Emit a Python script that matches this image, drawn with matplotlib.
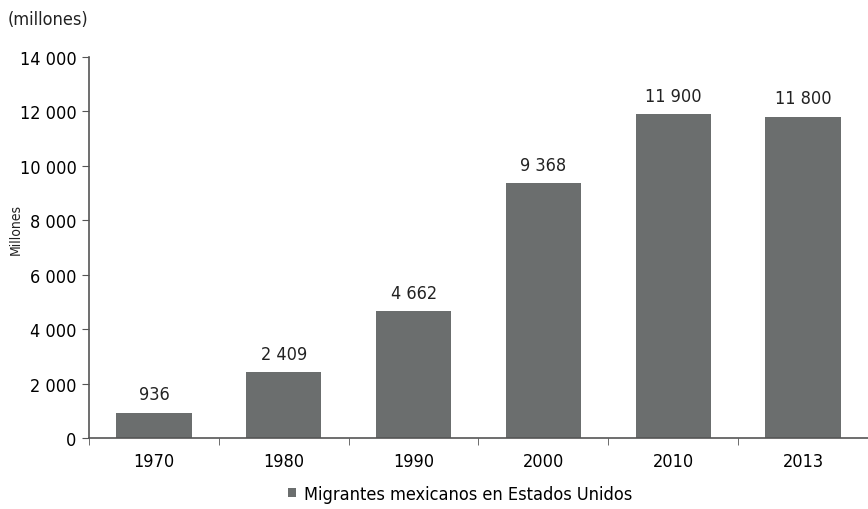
import numpy as np
import matplotlib
matplotlib.use("Agg")
import matplotlib.pyplot as plt
from matplotlib import font_manager
from matplotlib.ticker import FuncFormatter, FixedLocator

# look for a narrow face; fall back to DejaVu Sans
names = {f.name for f in font_manager.fontManager.ttflist}
print(sorted(n for n in names if 'ond' in n or 'arrow' in n))
plt.rcParams['font.family'] = ['DejaVu Sans']
plt.rcParams['font.stretch'] = 'condensed'

years = ['1970', '1980', '1990', '2000', '2010', '2013']
migrants = [936, 2409, 4662, 9368, 11900, 11800]
value_labels = ['936', '2 409', '4 662', '9 368', '11 900', '11 800']
series_name = 'Migrantes mexicanos en Estados Unidos'

bar_color = '#6b6e6e'
axis_color = '#555555'

fig = plt.figure(figsize=(8.68, 5.10), dpi=100)
ax = fig.add_axes([89 / 868, 1 - 439 / 510, (868 - 89) / 868, (439 - 58) / 510])

x = np.arange(len(years))
bars = ax.bar(x, migrants, width=0.58, color=bar_color, label=series_name, zorder=2)

for xi, v, lab in zip(x, migrants, value_labels):
    ax.text(xi, v + 350, lab, ha='center', va='bottom', fontsize=13, color='#222222')

ax.set_xlim(-0.5, len(years) - 0.5)
ax.set_ylim(0, 14000)
ax.set_yticks(np.arange(0, 14001, 2000))
ax.yaxis.set_major_formatter(FuncFormatter(lambda v, p: f"{int(v):,}".replace(',', ' ')))
ax.set_xticks(x)
ax.set_xticklabels(years)
ax.xaxis.set_minor_locator(FixedLocator(np.arange(-0.5, len(years), 1.0)))
ax.tick_params(axis='x', which='major', length=0, pad=10, labelsize=13)
ax.tick_params(axis='x', which='minor', length=5, direction='out', color=axis_color)
ax.tick_params(axis='y', length=5, direction='out', color=axis_color, labelsize=13, pad=4)

for s in ['top', 'right']:
    ax.spines[s].set_visible(False)
for s in ['left', 'bottom']:
    ax.spines[s].set_color(axis_color)
    ax.spines[s].set_linewidth(1.2)

fig.text(8 / 868, 1 - 20 / 510, '(millones)', fontsize=13, ha='left', va='center', color='#222222')
fig.text(16 / 868, 1 - 230 / 510, 'Millones', fontsize=10, rotation=90, ha='center', va='center', color='#222222')

leg = fig.legend(handles=[bars], labels=[series_name], loc='center', bbox_to_anchor=(460 / 868, 1 - 495 / 510),
                 frameon=False, fontsize=13, handlelength=0.45, handleheight=0.45, handletextpad=0.4)

fig.savefig('out.png', dpi=100)
